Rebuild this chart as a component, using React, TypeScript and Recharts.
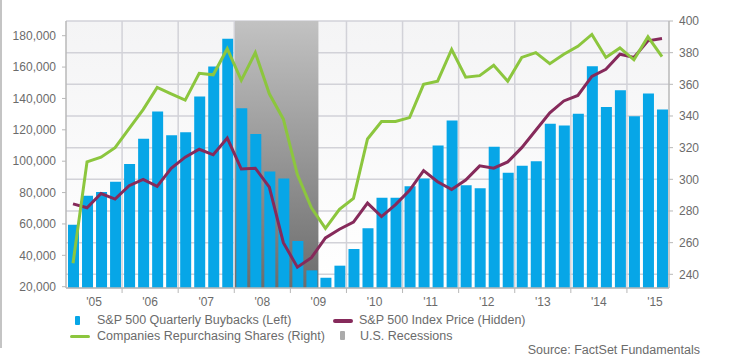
import React from 'react';
import {
  ComposedChart,
  Bar,
  Line,
  XAxis,
  YAxis,
  CartesianGrid,
  ReferenceArea,
  ReferenceLine,
} from 'recharts';

const quarters = [
  '2005Q1', '2005Q2', '2005Q3', '2005Q4',
  '2006Q1', '2006Q2', '2006Q3', '2006Q4',
  '2007Q1', '2007Q2', '2007Q3', '2007Q4',
  '2008Q1', '2008Q2', '2008Q3', '2008Q4',
  '2009Q1', '2009Q2', '2009Q3', '2009Q4',
  '2010Q1', '2010Q2', '2010Q3', '2010Q4',
  '2011Q1', '2011Q2', '2011Q3', '2011Q4',
  '2012Q1', '2012Q2', '2012Q3', '2012Q4',
  '2013Q1', '2013Q2', '2013Q3', '2013Q4',
  '2014Q1', '2014Q2', '2014Q3', '2014Q4',
  '2015Q1', '2015Q2', '2015Q3',
];

// S&P 500 Quarterly Buybacks (Left axis, $ millions)
const buybacks = [
  59500, 78000, 80300, 86900, 98200, 114300, 131700, 116600, 118500, 141300,
  160400, 178000, 133800, 117300, 93500, 89000, 49100, 30400, 25700, 33400,
  44000, 57200, 76700, 76700, 84100, 89000, 110000, 126000, 84600, 82700,
  109200, 92600, 97100, 99900, 123800, 122800, 130200, 160600, 134500, 145300,
  128700, 143200, 133000,
];

// Companies Repurchasing Shares (Right axis)
const companiesRepurchasing = [
  247, 311, 314, 320, 332, 344, 358, 354, 350, 367,
  366, 382.5, 362.5, 380, 354, 338, 303, 282, 269, 281,
  288, 325.5, 336.5, 336.5, 339, 360, 362, 382, 364.5, 365.5,
  372, 362, 377, 380, 373, 379, 384, 391.5, 377, 383,
  375.5, 390, 377.5,
];

// S&P 500 Index Price (Hidden scale, drawn on right axis units)
const indexPrice = [
  284.5, 282, 291, 287.5, 296, 300, 295.5, 307, 314, 319,
  315.5, 326, 306.5, 307, 295, 260, 244.5, 250.5, 263, 268.5,
  273, 285, 276.5, 284, 293, 305.5, 298.5, 293.5, 299.5, 308.5,
  307, 311, 320, 331, 342, 349.5, 353, 365, 369.5, 379,
  377, 387.5, 389,
];

const years = ['2005', '2006', '2007', '2008', '2009', '2010', '2011', '2012', '2013', '2014', '2015'];
const yearLabels = ["'05", "'06", "'07", "'08", "'09", "'10", "'11", "'12", "'13", "'14", "'15"];
const leftTicks = [20000, 40000, 60000, 80000, 100000, 120000, 140000, 160000, 180000];
const rightTicks = [240, 260, 280, 300, 320, 340, 360, 380, 400];
const recessionStart = '2008Q1';
const recessionEnd = '2009Q2';

const data = quarters.map((q, i) => ({
  q,
  buybacks: buybacks[i],
  companies: companiesRepurchasing[i],
  price: indexPrice[i],
}));

const FONT = '"Liberation Sans", Arial, Helvetica, sans-serif';
const TEXT = '#6b6b6b';
const GRID = '#d2d2d8';
const AXIS = '#b8b8b8';
const CHART_W = 734;
const CHART_H = 363;
const LEFT_W = 66;
const RIGHT_W = 65;
const BAND_FALLBACK = (CHART_W - LEFT_W - RIGHT_W) / quarters.length;

const XTick = (props: any) => {
  const { x, y, payload } = props;
  const q = String(payload.value);
  const half = payload && payload.offset > 0 ? payload.offset : BAND_FALLBACK / 2;
  const qn = q.slice(4);
  const yi = years.indexOf(q.slice(0, 4));
  return (
    <g>
      {qn === 'Q1' && yi > 0 ? (
        <line x1={x - half} x2={x - half} y1={y} y2={y + 5} stroke={AXIS} strokeWidth={1} />
      ) : null}
      {qn === 'Q2' ? (
        <text x={x + half} y={y + 18} textAnchor="middle" fill={TEXT} fontSize={12} fontFamily={FONT}>
          {yearLabels[yi]}
        </text>
      ) : null}
    </g>
  );
};

const recStartIdx = quarters.indexOf(recessionStart);
const recEndIdx = quarters.indexOf(recessionEnd);
// vertical year-boundary gridlines, hidden under the recession shading
const yearStarts = quarters.filter(
  (q, i) => q.endsWith('Q1') && i > 0 && !(i > recStartIdx && i <= recEndIdx)
);

const legendText: React.CSSProperties = {
  position: 'absolute',
  fontFamily: FONT,
  fontSize: 12.5,
  color: TEXT,
  lineHeight: '15px',
  whiteSpace: 'nowrap',
};

export default function App() {
  return (
    <div
      style={{
        position: 'absolute',
        left: 0,
        top: 0,
        width: CHART_W,
        height: CHART_H,
        background: '#ffffff',
        overflow: 'hidden',
      }}
    >
      <div style={{ position: 'absolute', left: 0, top: 0, width: 1.5, height: 348, background: '#c4c4c4' }} />
      <ComposedChart
        width={CHART_W}
        height={CHART_H}
        data={data}
        margin={{ top: 21, right: 0, left: 0, bottom: 45 }}
        barCategoryGap={3}
      >
        <defs>
          <linearGradient id="recessionGrad" x1="0" y1="0" x2="0" y2="1">
            <stop offset="0%" stopColor="#c2c2c2" />
            <stop offset="100%" stopColor="#6c6c6c" />
          </linearGradient>
          <linearGradient id="bgGrad" x1="0" y1="0" x2="0" y2="1">
            <stop offset="0%" stopColor="#f4f4f5" />
            <stop offset="100%" stopColor="#ffffff" />
          </linearGradient>
        </defs>
        <CartesianGrid
          yAxisId="right"
          vertical={false}
          horizontal={true}
          stroke={GRID}
          strokeWidth={1.5}
          fill="url(#bgGrad)"
        />
        {yearStarts.map((q) => (
          <ReferenceLine
            key={q}
            x={q}
            yAxisId="left"
            position="start"
            stroke={GRID}
            strokeWidth={1.5}
          />
        ))}
        <ReferenceArea
          x1={recessionStart}
          x2={recessionEnd}
          yAxisId="left"
          fill="url(#recessionGrad)"
          fillOpacity={1}
          stroke="none"
        />
        <XAxis
          dataKey="q"
          interval={0}
          height={30}
          tickSize={0}
          tickMargin={0}
          tickLine={false}
          axisLine={{ stroke: AXIS, strokeWidth: 1.5 }}
          tick={<XTick />}
        />
        <YAxis
          yAxisId="left"
          orientation="left"
          width={LEFT_W}
          domain={[19170, 189370]}
          ticks={leftTicks}
          allowDataOverflow
          tickFormatter={(v: number) => v.toLocaleString('en-US')}
          tick={{ fill: TEXT, fontSize: 12, fontFamily: FONT }}
          tickSize={4}
          tickMargin={6}
          tickLine={{ stroke: AXIS }}
          axisLine={{ stroke: AXIS, strokeWidth: 1.5 }}
        />
        <YAxis
          yAxisId="right"
          orientation="right"
          width={RIGHT_W}
          domain={[231.35, 400]}
          ticks={rightTicks}
          allowDataOverflow
          tick={{ fill: TEXT, fontSize: 12, fontFamily: FONT, textAnchor: 'start' }}
          tickSize={4}
          tickMargin={6}
          tickLine={{ stroke: AXIS }}
          axisLine={{ stroke: AXIS, strokeWidth: 1.5 }}
        />
        <Bar
          yAxisId="left"
          dataKey="buybacks"
          fill="#07a6e7"
          barSize={11}
          isAnimationActive={false}
        />
        <Line
          yAxisId="right"
          dataKey="price"
          type="linear"
          stroke="#862a5b"
          strokeWidth={3}
          dot={false}
          activeDot={false}
          isAnimationActive={false}
        />
        <Line
          yAxisId="right"
          dataKey="companies"
          type="linear"
          stroke="#8cc63e"
          strokeWidth={3}
          dot={false}
          activeDot={false}
          isAnimationActive={false}
        />
      </ComposedChart>

      {/* Legend */}
      <div style={{ position: 'absolute', left: 75, top: 316, width: 4.5, height: 9, background: '#07a6e7', borderRadius: 1 }} />
      <div style={{ ...legendText, left: 97, top: 313 }}>S&amp;P 500 Quarterly Buybacks (Left)</div>
      <div style={{ position: 'absolute', left: 333, top: 319, width: 20, height: 4, background: '#862a5b', borderRadius: 2 }} />
      <div style={{ ...legendText, left: 359, top: 313 }}>S&amp;P 500 Index Price (Hidden)</div>
      <div style={{ position: 'absolute', left: 70, top: 335, width: 20, height: 3, background: '#8cc63e', borderRadius: 1.5 }} />
      <div style={{ ...legendText, left: 97, top: 328.5 }}>Companies Repurchasing Shares (Right)</div>
      <div style={{ position: 'absolute', left: 340, top: 331, width: 4.5, height: 9, background: '#ababab', borderRadius: 1 }} />
      <div style={{ ...legendText, left: 360, top: 328.5 }}>U.S. Recessions</div>
      <div style={{ ...legendText, right: 34, top: 342.5 }}>Source: FactSet Fundamentals</div>
    </div>
  );
}
